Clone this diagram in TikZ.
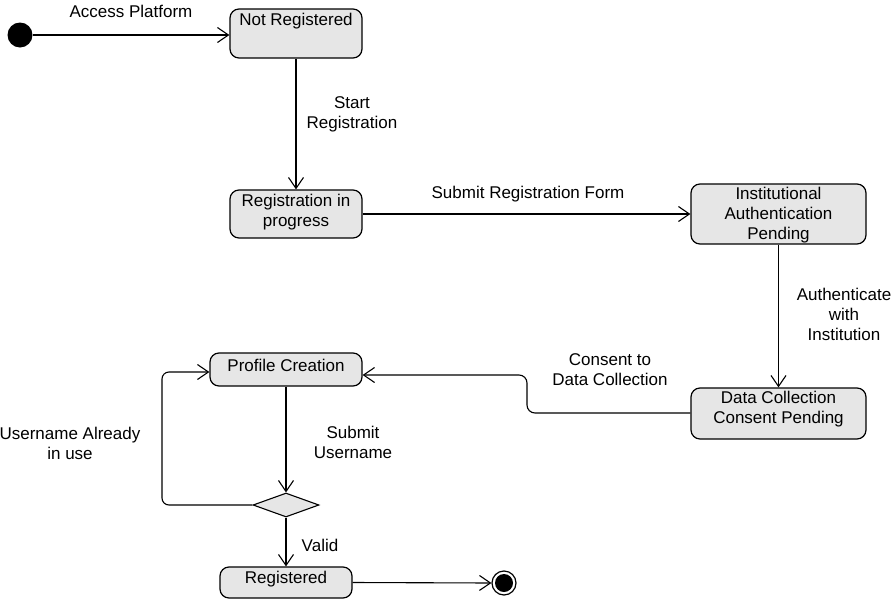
\documentclass[tikz,border=0pt]{standalone}
\usepackage{fontspec}
\setmainfont{Liberation Sans}
\usetikzlibrary{arrows.meta,shapes.geometric}
\definecolor{boxgray}{HTML}{E6E6E6}
\begin{document}
\begin{tikzpicture}[x=1pt,y=-1pt,
 box/.style={draw, line width=1.2pt, fill=boxgray, rounded corners=9pt, inner sep=0pt},
 lbl/.style={font=\fontsize{17}{20}\selectfont, align=center, inner sep=0pt},
 arr/.style={draw, line width=1.1pt, -{Straight Barb[length=11pt,width=15pt,line width=1.1pt]}}]
\useasboundingbox (0,0) rectangle (892,600);

% states
\node[circle, fill=black, minimum size=25pt, inner sep=0pt] (init) at (20,35) {};
\node[box, minimum width=132pt, minimum height=49pt] (nr) at (296,33.5) {};
\node[lbl] (nrt) at (296,21) {Not Registered};
\node[box, minimum width=132pt, minimum height=48pt] (rip) at (296,214) {};
\node[lbl] (ript) at (296,212) {Registration in\\progress};
\node[box, minimum width=175pt, minimum height=60pt] (iap) at (778.5,214) {};
\node[lbl] (iapt) at (778.5,215) {Institutional\\Authentication\\Pending};
\node[box, minimum width=175pt, minimum height=51pt] (dcc) at (778.5,413.5) {};
\node[lbl] (dcct) at (778.5,409) {Data Collection\\Consent Pending};
\node[box, minimum width=152pt, minimum height=33pt] (pc) at (286,369.5) {};
\node[lbl] (pct) at (286,365) {Profile Creation};
\node[diamond, draw, line width=1.1pt, fill=boxgray, minimum width=66pt, minimum height=24pt, inner sep=0pt] (dia) at (286,505) {};
\node[box, minimum width=132pt, minimum height=31pt] (reg) at (286,582.5) {};
\node[lbl] (regt) at (286,579) {Registered};
\node[circle, draw, line width=1.2pt, fill=white, minimum size=24pt, inner sep=0pt] (fin) at (504,583) {};
\node[circle, fill=black, minimum size=18pt, inner sep=0pt] (finin) at (504,583) {};

% helper coordinates
\coordinate (c1) at (527,413);
\coordinate (c2) at (527,375);
\coordinate (c3) at (162,505);
\coordinate (c4) at (162,372);

% transitions
\draw[arr] (init) -- (init -| nr.west);
\draw[arr] (nr.south) -- (rip.north);
\draw[arr] (rip.east) -- (iap.west);
\draw[arr] (iap.south) -- (dcc.north);
\draw[arr, rounded corners=8pt] (dcc.west |- c1) -- (c1) -- (c2) -- (c2 -| pc.east);
\draw[arr] (pc.south) -- (dia.north);
\draw[arr, rounded corners=7pt] (dia.west) -- (c3) -- (c4) -- (c4 -| pc.west);
\draw[arr] (dia.south) -- (reg.north);
\draw[arr] (reg.east) -- (fin.west);

% labels
\node[lbl] (l1) at (131,11) {Access Platform};
\node[lbl] (l2) at (352,114) {Start\\Registration};
\node[lbl] (l3) at (528,194) {Submit Registration Form};
\node[lbl] (l4) at (844,314) {Authenticate\\with\\Institution};
\node[lbl] (l5) at (610,370) {Consent to\\Data Collection};
\node[lbl] (l6) at (353,442) {Submit\\Username};
\node[lbl] (l7) at (70,443) {Username Already\\in use};
\node[lbl] (l8) at (320,545) {Valid};
\end{tikzpicture}
\end{document}
